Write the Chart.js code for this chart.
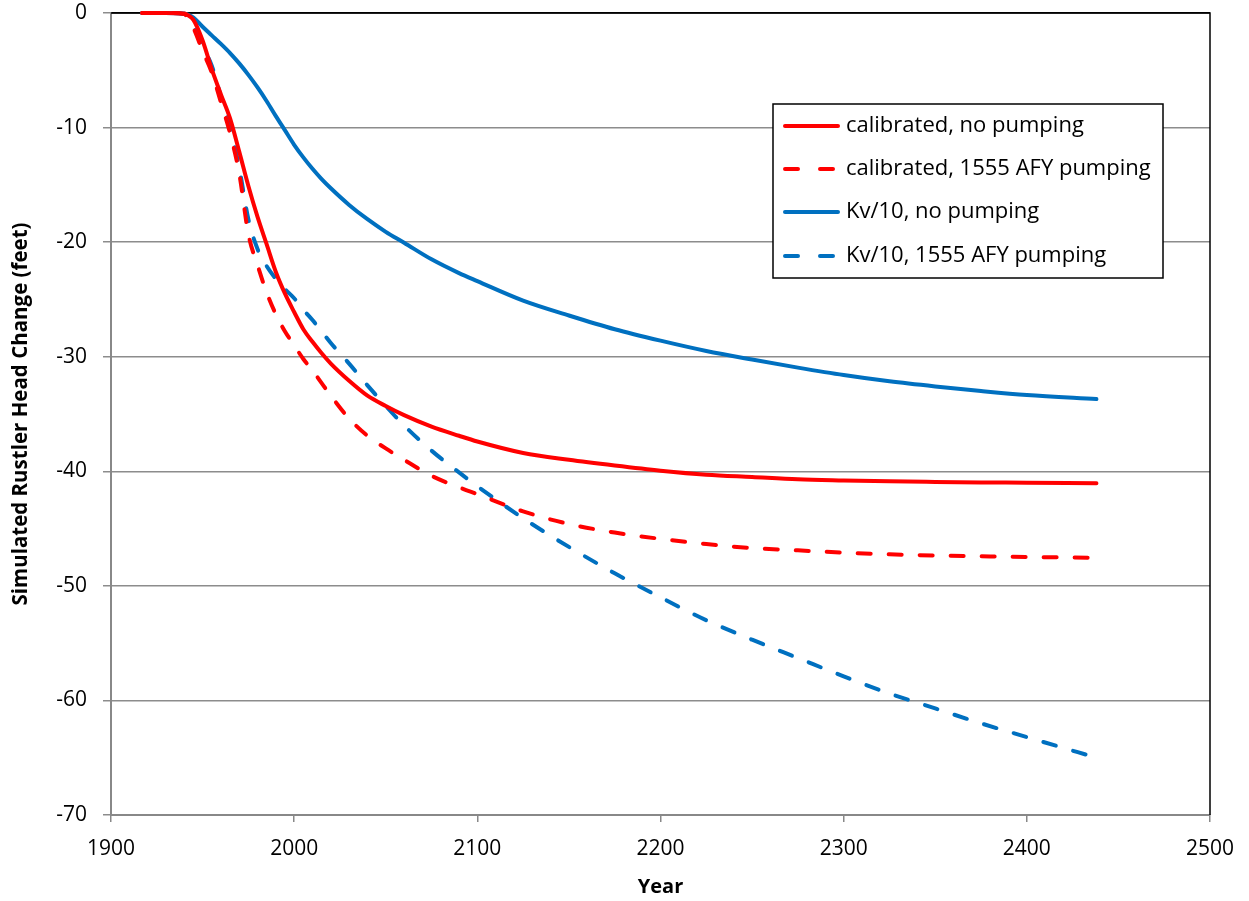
<!DOCTYPE html>
<html>
<head>
<meta charset="utf-8">
<script src="https://cdn.jsdelivr.net/npm/chart.js@4"></script>
<style>
  html, body { margin: 0; padding: 0; background: #ffffff; }
  #wrap { width: 1249px; height: 901px; position: relative; }
</style>
</head>
<body>
<div id="wrap"><canvas id="c" width="1249" height="901"></canvas></div>
<script>
const years = [1917,1930,1940,1942,1945,1950,1955,1960,1965,1970,1975,1980,1985,1990,1995,2000,2005,2010,2015,2020,2030,2040,2050,2060,2075,2090,2100,2125,2150,2175,2200,2225,2250,2275,2300,2325,2350,2375,2400,2438];
const calibratedNoPumping = [0,0,-0.05,-0.2,-0.6,-2.4,-4.9,-7.1,-9.2,-12.1,-15.1,-17.8,-20.2,-22.6,-24.5,-26.1,-27.6,-28.7,-29.7,-30.6,-32.1,-33.4,-34.3,-35.1,-36.1,-36.9,-37.4,-38.4,-39.0,-39.5,-39.95,-40.3,-40.5,-40.7,-40.8,-40.88,-40.93,-40.97,-41.0,-41.05];
const calibratedPumping = [0,0,-0.1,-0.4,-1.3,-3.3,-5.2,-7.8,-10.5,-14.0,-19.3,-22.0,-24.4,-26.3,-27.8,-29.0,-30.2,-31.2,-32.3,-33.4,-35.4,-36.9,-38.0,-39.0,-40.4,-41.4,-42.0,-43.5,-44.6,-45.35,-45.9,-46.35,-46.7,-46.9,-47.1,-47.25,-47.35,-47.42,-47.48,-47.55];
const kvNoPumping = [0,0,-0.05,-0.15,-0.4,-1.2,-1.95,-2.7,-3.5,-4.4,-5.4,-6.5,-7.7,-9.0,-10.25,-11.5,-12.6,-13.6,-14.5,-15.3,-16.75,-18.0,-19.1,-20.05,-21.5,-22.7,-23.4,-25.1,-26.4,-27.6,-28.6,-29.5,-30.25,-30.95,-31.6,-32.15,-32.6,-33.0,-33.35,-33.7];
const kvPumping = [0,0,-0.1,-0.35,-1.2,-2.9,-4.6,-7.3,-10.0,-13.5,-18.0,-20.6,-22.1,-23.2,-24.1,-24.9,-25.9,-26.8,-27.8,-28.8,-30.6,-32.5,-34.3,-36.0,-38.2,-40.1,-41.3,-44.1,-46.6,-48.9,-51.0,-53.0,-54.7,-56.3,-57.9,-59.4,-60.7,-62.0,-63.2,-65.0];
const seriesLabels = ['calibrated, no pumping','calibrated, 1555 AFY pumping','Kv/10, no pumping','Kv/10, 1555 AFY pumping'];
const xTitle = 'Year';
const yTitle = 'Simulated Rustler Head Change (feet)';

const FONT = "'Open Sans', 'Liberation Sans', sans-serif";
const RED = '#ff0000';
const BLUE = '#0070c0';
const DASH = [13, 18];

function pts(vals) { return years.map((y, i) => ({ x: y, y: vals[i] })); }

function ds(label, vals, color, dashed) {
  return {
    label: label,
    data: pts(vals),
    borderColor: color,
    backgroundColor: color,
    borderWidth: 4,
    borderDash: dashed ? DASH : [],
    borderCapStyle: 'round',
    borderJoinStyle: 'round',
    pointRadius: 0,
    pointHoverRadius: 0,
    cubicInterpolationMode: 'monotone',
    fill: false,
    clip: false
  };
}

const frame = {
  id: 'frame',
  beforeDatasetsDraw(chart) {
    const a = chart.chartArea, c = chart.ctx;
    c.save();
    c.strokeStyle = '#000';
    c.lineWidth = 1.5;
    c.beginPath();
    c.moveTo(a.left, a.top); c.lineTo(a.right, a.top); c.lineTo(a.right, a.bottom);
    c.stroke();
    c.restore();
  }
};

const boxLegend = {
  id: 'boxLegend',
  afterDraw(chart) {
    const c = chart.ctx;
    const bx = 773, by = 104, bw = 390, bh = 174;
    c.save();
    c.fillStyle = '#fff';
    c.fillRect(bx, by, bw, bh);
    c.strokeStyle = '#000';
    c.lineWidth = 1.5;
    c.strokeRect(bx, by, bw, bh);
    const rows = [126, 169, 212, 256];
    chart.data.datasets.forEach((d, i) => {
      const y = rows[i];
      c.strokeStyle = d.borderColor;
      c.lineWidth = 4;
      c.lineCap = 'round';
      c.setLineDash(d.borderDash && d.borderDash.length ? [13, 22] : []);
      c.beginPath();
      c.moveTo(785, y); c.lineTo(838, y);
      c.stroke();
      c.setLineDash([]);
      c.fillStyle = '#000';
      c.font = "22px " + FONT;
      c.textBaseline = 'middle';
      c.textAlign = 'left';
      c.fillText(d.label, 846, y);
    });
    c.restore();
  }
};

new Chart(document.getElementById('c'), {
  type: 'line',
  data: {
    datasets: [
      ds(seriesLabels[0], calibratedNoPumping, RED, false),
      ds(seriesLabels[1], calibratedPumping, RED, true),
      ds(seriesLabels[2], kvNoPumping, BLUE, false),
      ds(seriesLabels[3], kvPumping, BLUE, true)
    ]
  },
  options: {
    responsive: false,
    animation: false,
    devicePixelRatio: 1,
    layout: { padding: { left: 0, top: 13, right: 39, bottom: 0 } },
    plugins: { legend: { display: false }, tooltip: { enabled: false } },
    scales: {
      x: {
        type: 'linear',
        min: 1900, max: 2500,
        afterFit(s) { s.height = 86; s.paddingLeft = 0; s.paddingRight = 0; },
        ticks: { stepSize: 100, color: '#000', font: { family: FONT, size: 21 }, padding: 14, maxRotation: 0,
                 callback: v => String(v) },
        grid: { drawOnChartArea: false, drawTicks: true, tickLength: 7, color: '#888', lineWidth: 1.5 },
        border: { display: true, color: '#888', width: 2 },
        title: { display: true, text: xTitle, color: '#000', font: { family: FONT, size: 20, weight: 'bold' }, padding: { top: 0, bottom: 2 } }
      },
      y: {
        type: 'linear',
        min: -70, max: 0,
        afterFit(s) { s.width = 111; s.paddingTop = 0; s.paddingBottom = 0; },
        ticks: { stepSize: 10, color: '#000', font: { family: FONT, size: 21 }, padding: 16 },
        grid: {
          drawTicks: true, tickLength: 8,
          color: ctx => (ctx.tick && ctx.tick.value === 0) ? '#000' : '#8c8c8c',
          tickColor: '#8c8c8c',
          lineWidth: 1.5
        },
        border: { display: true, color: '#888', width: 2 },
        title: { display: true, text: yTitle, color: '#000', font: { family: FONT, size: 20.5, weight: 'bold' }, padding: { top: 9, bottom: 0 } }
      }
    }
  },
  plugins: [frame, boxLegend]
});
</script>
</body>
</html>
